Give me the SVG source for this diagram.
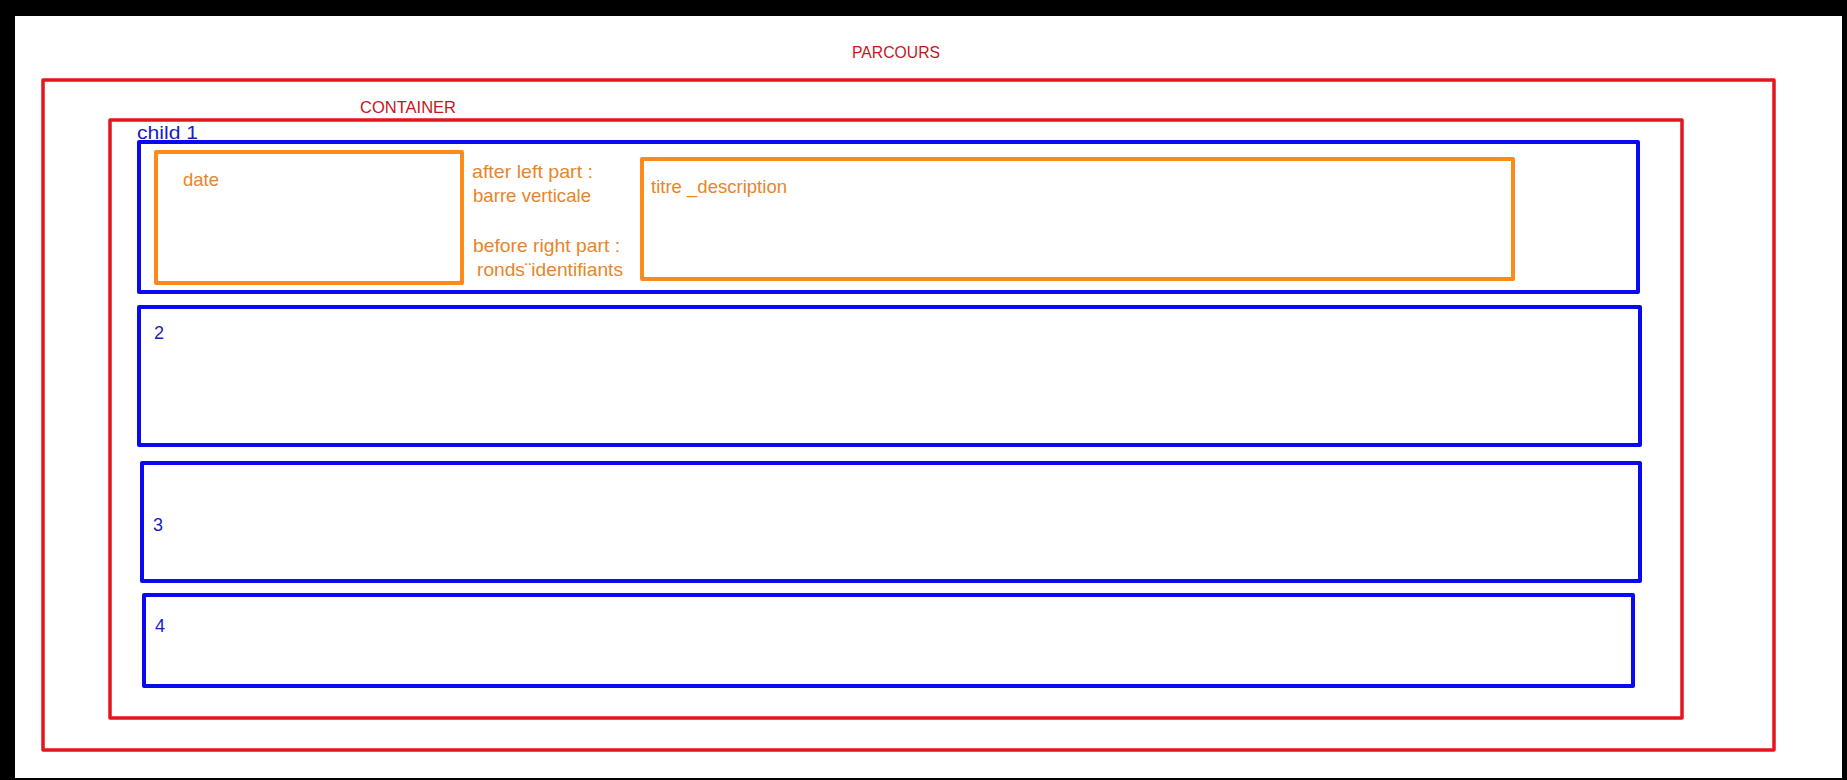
<svg xmlns="http://www.w3.org/2000/svg" width="1847" height="780" viewBox="0 0 1847 780">
  <style>
    .frame { fill: none; stroke-linejoin: round; }
    .red { stroke: #e3171b; stroke-width: 3.5; }
    .blue { stroke: #0a0af0; stroke-width: 4; }
    .orange { stroke: #ff8a1a; stroke-width: 4; }
    text { font-family: "Liberation Sans", Arial, sans-serif; }
    .lbl-red { fill: #c4161c; font-size: 16.5px; }
    .lbl-blue { fill: #1a1acc; font-size: 18px; }
    .lbl-orange { fill: #e8852a; font-size: 18.5px; }
  </style>

  <!-- page backdrop -->
  <rect x="0" y="0" width="1847" height="780" fill="#000"/>
  <rect x="15" y="16" width="1827" height="762" fill="#fff"/>

  <!-- outer section -->
  <g id="parcours">
    <rect class="frame red" x="43" y="80" width="1731" height="670"/>
    <text class="lbl-red" x="852" y="58" textLength="88" lengthAdjust="spacingAndGlyphs">PARCOURS</text>
  </g>

  <!-- inner container -->
  <g id="container">
    <rect class="frame red" x="110" y="120" width="1572" height="598"/>
    <text class="lbl-red" x="360" y="113" textLength="96" lengthAdjust="spacingAndGlyphs">CONTAINER</text>
  </g>

  <!-- first row with its two parts -->
  <g id="child1">
    <rect class="frame blue" x="139" y="142" width="1499" height="150"/>
    <text class="lbl-blue" x="137" y="139" textLength="61" lengthAdjust="spacingAndGlyphs">child 1</text>
  </g>
  <g id="date">
    <rect class="frame orange" x="156" y="152" width="306" height="131"/>
    <text class="lbl-orange" x="183" y="186" textLength="36" lengthAdjust="spacingAndGlyphs">date</text>
  </g>
  <g id="pseudo-notes">
    <text class="lbl-orange" x="472" y="178" textLength="121" lengthAdjust="spacingAndGlyphs">after left part :</text>
    <text class="lbl-orange" x="473" y="202" textLength="118" lengthAdjust="spacingAndGlyphs">barre verticale</text>
    <text class="lbl-orange" x="473" y="252" textLength="147" lengthAdjust="spacingAndGlyphs">before right part :</text>
    <text class="lbl-orange" x="477" y="276" textLength="146" lengthAdjust="spacingAndGlyphs">ronds¨identifiants</text>
  </g>
  <g id="titre-description">
    <rect class="frame orange" x="642" y="159" width="871" height="120"/>
    <text class="lbl-orange" x="651" y="193" textLength="136" lengthAdjust="spacingAndGlyphs">titre _description</text>
  </g>

  <!-- remaining rows -->
  <g id="child2">
    <rect class="frame blue" x="139" y="307" width="1501" height="138"/>
    <text class="lbl-blue" x="154" y="339">2</text>
  </g>
  <g id="child3">
    <rect class="frame blue" x="142" y="463" width="1498" height="118"/>
    <text class="lbl-blue" x="153" y="531">3</text>
  </g>
  <g id="child4">
    <rect class="frame blue" x="144" y="595" width="1489" height="91"/>
    <text class="lbl-blue" x="155" y="632">4</text>
  </g>

  <g id="connectors"/>
</svg>
